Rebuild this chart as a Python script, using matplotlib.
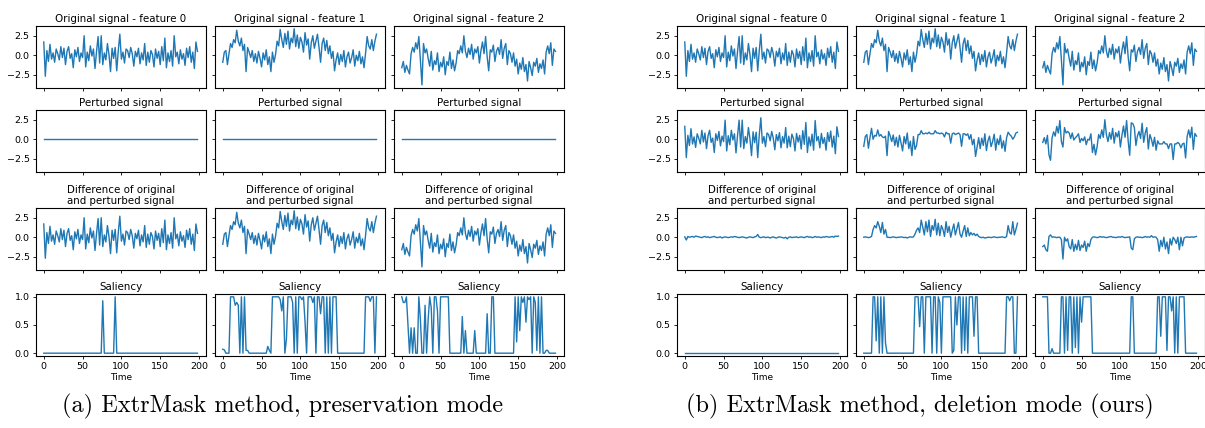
import numpy as np
import matplotlib
matplotlib.use('Agg')
import matplotlib.pyplot as plt

# ==================== data (t = 0, 2, ..., 198) ====================
TIME = np.arange(0, 200, 2)

# original signal, same in both panels
ORIG_F0 = [1.7, -2.7, 0.6, -0.8, 1.4, -0.5, 0.3, -0.9, 0.8, 0.2,
           -0.6, 1.1, -0.3, 0.9, -1.2, 0.5, 1.1, -0.4, 0.2, -1.6,
           0.7, -0.2, 1.0, -0.8, 0.3, -0.3, 2.5, -1.5, 0.4, -0.7,
           1.2, -0.1, 0.8, -1.7, 0.5, 2.4, -1.0, 2.5, -1.2, 0.3,
           -0.6, 1.5, 0.1, -2.1, 0.9, -0.4, 1.0, -2.0, 0.6, 2.7,
           -0.5, 0.4, -1.0, 0.8, 0.6, -0.3, 1.0, 0.2, -1.4, 0.5,
           -0.2, 0.9, -1.1, 0.3, -0.6, 1.5, -1.3, 0.4, -0.9, 0.6,
           0.1, -1.5, 0.8, -0.4, 0.5, -1.2, 1.1, -0.7, 2.2, -1.6,
           0.3, -0.8, 0.6, -1.4, 2.5, -0.2, 0.4, -1.1, 0.7, -0.5,
           0.2, -1.3, 0.9, -0.3, 1.1, -0.9, 0.4, -1.7, 1.7, 0.5]
ORIG_F1 = [-0.9, 0.4, 0.6, -1.2, 0.2, 1.5, 1.0, 2.0, 1.6, 3.2,
           1.8, 1.2, 2.2, 0.6, 1.4, -2.1, 1.0, 0.4, -0.3, 0.6,
           -0.8, 0.2, -1.0, 0.5, -0.4, -1.5, 0.3, -0.6, 0.7, -1.2,
           -0.2, -2.1, 0.4, -0.9, 0.1, 1.8, 1.2, 3.3, 2.0, 1.0,
           2.8, 1.4, 3.1, 0.8, 2.2, 1.6, 3.4, 1.1, 2.6, 0.9,
           2.3, 1.7, 0.4, 2.9, 1.3, 2.1, -0.5, 1.6, 2.5, 0.9,
           1.8, 2.7, 1.0, -0.9, 1.5, 2.2, 0.6, 1.9, 0.2, 1.2,
           -0.4, 0.5, -2.0, -0.6, 0.3, -1.2, 0.1, -0.8, 0.6, -1.5,
           -0.2, 0.4, -1.0, -0.3, 0.7, -1.4, 0.0, -0.7, 0.5, -1.1,
           -0.2, -1.6, 0.3, 2.4, 1.2, 0.8, 2.0, 0.6, 1.8, 2.7]
ORIG_F2 = [-1.6, -0.8, -2.2, -1.3, -1.9, -2.4, 0.2, 1.0, 0.4, 1.6,
           0.8, 2.4, -0.6, -3.8, 1.5, 0.3, 0.8, -0.4, -1.4, 0.5,
           -1.9, -0.7, -1.2, 0.3, -2.1, -0.9, -1.5, -0.2, -2.5, -0.8,
           -1.3, 0.4, -1.7, -0.6, -2.0, -1.0, 0.6, 0.2, 1.2, 0.3,
           2.5, 0.5, -0.3, 0.9, 0.1, 1.4, -0.5, 0.8, 0.3, 1.1,
           -1.0, 0.6, 1.7, 0.2, 2.4, -0.2, -2.0, 0.7, 0.4, 1.3,
           -0.8, 0.5, 1.0, 0.1, 2.0, -0.4, 0.9, 1.5, -1.2, 0.6,
           0.2, -0.9, 0.3, -1.4, -0.5, -2.4, -1.0, -1.8, -0.3, -2.1,
           -1.2, -3.3, -0.8, -1.6, -2.6, -0.9, -1.4, -0.4, -2.2, -1.1,
           -1.7, -0.6, -2.4, 0.4, 1.2, 0.2, 1.6, -1.3, 0.8, 0.5]

# (a) preservation mode: perturbed signal is flat zero
PERT_A_F0 = [0.0] * 100
PERT_A_F1 = [0.0] * 100
PERT_A_F2 = [0.0] * 100

# (b) deletion mode: difference of original and perturbed signal
DIFF_B_F0 = [0.05, -0.35, 0.1, 0.0, 0.05, 0.1, 0.0, 0.15, 0.1, 0.05,
             0.0, -0.05, 0.05, 0.1, 0.0, 0.05, -0.05, 0.0, 0.05, 0.1,
             0.0, -0.05, 0.0, 0.05, -0.1, 0.0, 0.05, 0.0, -0.05, 0.0,
             0.05, 0.0, 0.1, 0.05, 0.0, -0.05, 0.0, 0.05, 0.0, -0.05,
             -0.1, 0.0, 0.05, 0.0, -0.05, 0.05, 0.1, 0.35, 0.0, -0.05,
             0.0, 0.05, -0.05, 0.0, 0.0, -0.1, 0.0, 0.05, -0.05, -0.1,
             0.0, 0.05, 0.0, -0.05, -0.1, 0.0, -0.2, 0.0, 0.05, -0.05,
             0.0, 0.0, 0.05, -0.05, 0.0, 0.05, 0.0, -0.05, 0.05, 0.1,
             0.0, 0.05, -0.05, 0.0, 0.1, 0.0, 0.05, 0.0, -0.05, 0.05,
             0.0, 0.1, 0.05, 0.0, 0.05, 0.1, 0.0, 0.15, 0.1, 0.15]
DIFF_B_F1 = [0.0, 0.05, 0.0, -0.05, 0.0, 0.1, 1.0, 1.5, 1.2, 2.0,
             1.4, 0.6, 1.9, 0.4, 1.0, 0.0, 0.0, -0.05, 0.0, 0.05,
             0.0, -0.05, 0.0, 0.0, 0.05, 0.0, -0.05, 0.0, -0.1, 0.0,
             0.05, 0.0, 0.05, 0.4, 0.9, 1.2, 0.6, 2.2, 1.3, 0.3,
             2.0, 0.7, 2.2, 0.1, 1.5, 0.9, 2.3, 0.3, 1.8, 0.2,
             1.5, 1.0, 0.1, 2.0, 0.6, 1.4, 0.0, 0.9, 1.7, 0.3,
             1.1, 1.9, 0.4, 0.0, 0.8, 1.5, 0.1, 1.2, 0.2, 0.6,
             0.3, 0.5, 0.2, 0.4, 0.1, 0.0, -0.05, 0.0, -0.1, -0.05,
             0.0, 0.0, -0.05, 0.0, 0.05, 0.0, -0.05, 0.0, 0.0, 0.05,
             0.0, -0.05, 0.1, 1.5, 0.6, 0.4, 2.0, 0.3, 1.0, 1.8]
DIFF_B_F2 = [-1.2, -1.0, -1.6, -1.8, 0.1, 0.3, 0.0, 0.05, 0.0, -0.05,
             0.0, 0.0, -0.3, -2.8, 0.0, -0.5, -0.2, -1.2, -1.5, -0.3,
             -1.8, -0.9, -1.6, -0.4, -1.7, -1.0, -1.3, -0.5, -1.8, -0.8,
             -1.2, -0.3, 0.0, 0.05, 0.0, -0.05, 0.0, 0.1, 0.0, 0.05,
             0.0, -0.05, 0.0, 0.05, 0.1, 0.0, 0.0, -0.05, 0.0, 0.05,
             0.0, 0.1, 0.0, -0.05, 0.0, 0.0, 0.05, -1.4, -1.6, -0.2,
             0.0, 0.05, 0.0, 0.0, -0.05, 0.0, 0.1, 0.0, 0.05, 0.0,
             0.2, 0.0, 0.05, 0.0, -0.3, -1.8, -0.4, -1.2, 0.0, -1.5,
             -0.6, -2.1, -0.2, -1.0, 0.0, -0.3, -0.8, 0.0, -1.6, 0.0,
             -1.1, -0.1, 0.0, 0.05, 0.0, 0.0, 0.05, 0.0, 0.05, 0.1]

# saliency masks
SAL_A_F0 = [0.0] * 38 + [0.93] + [0.0] * 7 + [1.0] + [0.0] * 53
SAL_A_F1 = [0.07, 0.06, 0.0, 0.0, 0.0, 1.0, 1.0, 1.0, 0.85, 0.9,
            0.85, 0.0, 1.0, 0.0, 1.0, 0.05, 0.05, 0.0, 0.0, 0.0,
            0.0, 0.0, 0.0, 0.0, 0.0, 0.0, 0.0, 0.0, 0.0, 0.12,
            0.05, 0.0, 1.0, 1.0, 1.0, 1.0, 1.0, 0.95, 0.75, 1.0,
            0.0, 0.25, 1.0, 1.0, 1.0, 0.9, 0.0, 1.0, 0.0, 1.0,
            1.0, 0.95, 1.0, 0.55, 0.0, 1.0, 1.0, 1.0, 0.9, 1.0,
            0.0, 1.0, 1.0, 0.7, 1.0, 1.0, 0.0, 1.0, 0.0, 1.0,
            0.0, 1.0, 1.0, 1.0, 0.0, 0.0, 0.0, 0.0, 0.0, 0.0,
            0.0, 0.0, 0.0, 0.0, 0.0, 0.0, 0.0, 0.0, 0.0, 0.0,
            0.0, 0.0, 1.0, 1.0, 1.0, 0.92, 1.0, 1.0, 0.0, 1.0]
SAL_A_F2 = [1.0, 0.9, 0.9, 1.0, 0.5, 0.0, 0.45, 0.0, 0.45, 0.0,
            0.0, 1.0, 0.6, 0.0, 0.0, 0.85, 0.0, 0.6, 1.0, 0.8,
            0.0, 1.0, 1.0, 0.75, 0.0, 1.0, 1.0, 1.0, 1.0, 1.0,
            1.0, 0.0, 0.0, 0.0, 0.0, 0.0, 0.0, 0.0, 0.0, 0.65,
            0.0, 0.4, 0.0, 0.0, 0.0, 0.0, 0.0, 0.4, 0.0, 0.0,
            0.0, 0.0, 0.0, 0.0, 0.0, 0.7, 0.0, 0.0, 1.0, 1.0,
            0.0, 0.0, 0.0, 0.0, 0.0, 0.0, 0.0, 0.0, 0.0, 0.0,
            0.0, 0.0, 0.0, 1.0, 0.2, 1.0, 0.4, 1.0, 0.9, 1.0,
            0.55, 1.0, 0.95, 1.0, 0.0, 1.0, 0.9, 0.05, 1.0, 0.0,
            1.0, 0.0, 0.0, 0.05, 0.05, 0.0, 0.0, 0.0, 0.0, 0.0]
SAL_B_F0 = [0.0] * 100
SAL_B_F1 = [0.0, 0.0, 0.0, 0.0, 0.0, 0.0, 1.0, 1.0, 0.22, 1.0,
            0.0, 1.0, 0.0, 1.0, 0.18, 0.0, 0.0, 0.0, 0.0, 0.0,
            0.0, 0.0, 0.0, 0.0, 0.0, 0.0, 0.0, 0.0, 0.0, 0.0,
            0.0, 0.0, 0.0, 1.0, 1.0, 1.0, 0.47, 1.0, 1.0, 0.0,
            1.0, 1.0, 1.0, 1.0, 0.0, 1.0, 1.0, 0.0, 1.0, 0.9,
            0.0, 1.0, 1.0, 1.0, 1.0, 1.0, 1.0, 0.0, 0.05, 1.0,
            0.5, 1.0, 1.0, 0.0, 1.0, 0.05, 1.0, 0.0, 1.0, 1.0,
            1.0, 0.3, 1.0, 1.0, 0.0, 0.0, 0.0, 0.0, 0.0, 0.0,
            0.0, 0.0, 0.0, 0.0, 0.0, 0.0, 0.0, 0.0, 0.0, 0.0,
            0.0, 0.0, 1.0, 1.0, 0.93, 1.0, 1.0, 0.0, 0.0, 1.0]
SAL_B_F2 = [1.0, 1.0, 1.0, 1.0, 0.0, 0.0, 0.08, 0.0, 0.0, 0.0,
            0.0, 0.0, 1.0, 1.0, 0.0, 1.0, 0.05, 1.0, 1.0, 0.0,
            1.0, 0.1, 1.0, 0.0, 1.0, 0.55, 1.0, 1.0, 1.0, 1.0,
            1.0, 1.0, 0.0, 0.0, 0.0, 0.0, 0.0, 0.0, 0.0, 0.0,
            0.0, 0.0, 0.0, 0.0, 0.0, 0.0, 0.0, 0.0, 0.0, 0.0,
            0.0, 0.0, 0.0, 0.0, 0.0, 0.0, 0.0, 1.0, 1.0, 0.0,
            0.0, 0.0, 0.0, 0.0, 0.0, 0.0, 0.0, 0.0, 0.0, 0.0,
            0.0, 0.0, 0.0, 0.0, 1.0, 1.0, 0.3, 1.0, 1.0, 1.0,
            0.05, 1.0, 1.0, 0.75, 1.0, 0.0, 1.0, 0.0, 1.0, 1.0,
            1.0, 1.0, 0.0, 0.0, 0.0, 0.0, 0.0, 0.0, 0.0, 0.0]

CAPTIONS = ['(a) ExtrMask method, preservation mode',
            '(b) ExtrMask method, deletion mode (ours)']

# ==================== layout (pixels) ====================
W, H = 1205, 428
AX_W, AX_H = 170, 62
ROW_TOPS = [26, 110, 208, 294]
COL_LEFTS_A = [36, 215, 394]
COL_LEFTS_B = [677, 856, 1035]
LINE_COLOR = '#1f77b4'


def draw_panel(fig, col_lefts, origs, perts, sals):
    """One 4x3 grid: original / perturbed / difference / saliency"""
    for c in range(3):
        orig = np.array(origs[c])
        pert = np.array(perts[c])
        rows = [orig, pert, orig - pert, np.array(sals[c])]
        titles = [f'Original signal - feature {c}', 'Perturbed signal',
                  'Difference of original\nand perturbed signal', 'Saliency']
        for r in range(4):
            rect = [col_lefts[c] / W, 1 - (ROW_TOPS[r] + AX_H) / H, AX_W / W, AX_H / H]
            ax = fig.add_axes(rect)
            ax.plot(TIME, rows[r], color=LINE_COLOR, linewidth=1.0)
            ax.set_title(titles[r], fontsize=7.4, pad=3, linespacing=1.1)
            ax.set_xlim(-10, 209)
            ax.set_xticks([0, 50, 100, 150, 200])
            if r < 3:
                ax.set_ylim(-4.2, 3.75)
                ax.set_yticks([-2.5, 0.0, 2.5])
            else:
                ax.set_ylim(-0.05, 1.05)
                ax.set_yticks([0.0, 0.5, 1.0])
            ax.tick_params(labelsize=6.8, length=2.5, width=0.6, pad=2)
            for sp in ax.spines.values():
                sp.set_linewidth(0.8)
            if c > 0:
                ax.set_yticklabels([])
            if r < 3:
                ax.set_xticklabels([])
            else:
                ax.set_xlabel('Time', fontsize=6.5, labelpad=1)


if __name__ == "__main__":
    fig = plt.figure(figsize=(W / 100, H / 100), dpi=100)

    draw_panel(fig, COL_LEFTS_A, [ORIG_F0, ORIG_F1, ORIG_F2],
               [PERT_A_F0, PERT_A_F1, PERT_A_F2],
               [SAL_A_F0, SAL_A_F1, SAL_A_F2])

    # perturbed = original - difference for the deletion mode panel
    origs = [ORIG_F0, ORIG_F1, ORIG_F2]
    diffs = [DIFF_B_F0, DIFF_B_F1, DIFF_B_F2]
    perts_b = [np.array(o) - np.array(d) for o, d in zip(origs, diffs)]
    draw_panel(fig, COL_LEFTS_B, origs, perts_b,
               [SAL_B_F0, SAL_B_F1, SAL_B_F2])

    fig.text(283 / W, 1 - 406 / H, CAPTIONS[0], fontsize=17.5, family='cmr10',
             ha='center', va='center')
    fig.text(920 / W, 1 - 406 / H, CAPTIONS[1], fontsize=17.5, family='cmr10',
             ha='center', va='center')

    fig.savefig('out.png', dpi=100)
    plt.close(fig)
